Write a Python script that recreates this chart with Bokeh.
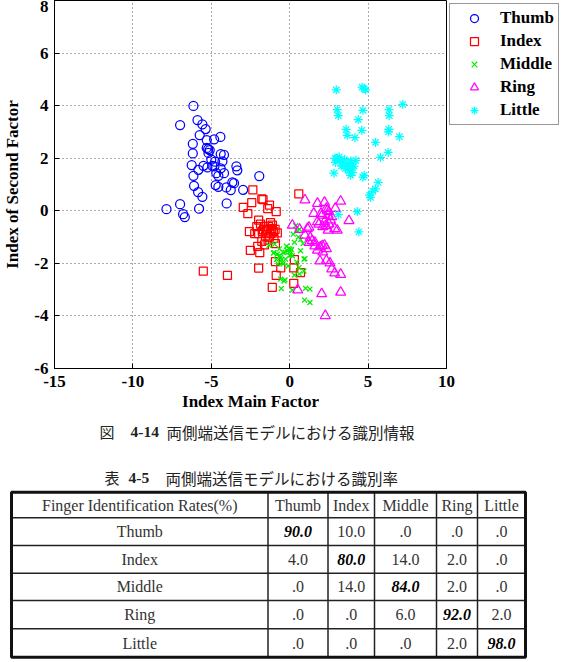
from bokeh.plotting import figure
from bokeh.models import Legend, LegendItem, Range1d, FixedTicker
from bokeh.core.properties import value
from bokeh.embed import file_html
from bokeh.resources import INLINE

# ---------------- data ----------------
thumb_x = [-6.14, -6.99, -5.88, -5.57, -5.36, -5.74, -5.29, -4.82, -4.42, -6.18, -5.29, -5.10, -5.18, -6.18,
           -4.40, -4.19, -4.29, -4.76, -4.93, -5.50, -6.25, -5.25, -4.40, -3.40, -3.34, -4.68, -4.19, -4.55,
           -5.82, -6.14, -4.72, -4.55, -3.66, -3.55, -4.04, -3.76, -6.10, -5.84, -5.57, -2.97, -1.94, -4.02,
           -6.99, -7.86, -5.78, -6.80, -6.69, -5.20, -4.80, -5.00]
thumb_y = [3.99, 3.26, 3.45, 3.29, 3.11, 2.88, 2.69, 2.72, 2.81, 2.55, 2.39, 2.31, 2.20, 2.18,
           2.16, 2.13, 1.88, 1.87, 1.71, 1.71, 1.74, 1.65, 1.61, 1.69, 1.54, 1.43, 1.43, 1.33,
           1.56, 1.33, 0.98, 0.91, 1.08, 1.05, 0.89, 0.79, 0.95, 0.71, 0.53, 0.80, 1.32, 0.28,
           0.25, 0.06, 0.08, -0.13, -0.24, 2.35, 1.69, 1.95]

index_x = [-2.35, 0.58, -1.78, -2.42, -2.96, -2.67, -1.29, -1.40, -0.86, -1.98, -1.86, -1.22, -2.57, -2.23,
           -1.35, -1.61, -1.43, -1.20, -0.93, -1.04, -0.79, -1.98, -1.68, -1.49, -1.78, -2.04, -0.91, -2.51,
           -1.91, -1.61, -0.91, 0.30, -1.98, -0.57, 0.26, 0.69, -0.86, -5.51, -3.97, -1.11, 0.26, -1.38,
           -1.15, -1.55, -1.30, -1.75, -2.10, -1.00, -1.70, -1.10]
index_y = [0.80, 0.64, 0.45, 0.31, 0.13, -0.11, 0.22, 0.08, -0.03, -0.36, -0.51, -0.45, -0.79, -0.87,
           -0.60, -0.59, -0.74, -0.87, -0.71, -0.79, -0.84, -0.87, -0.72, -0.70, -1.16, -1.35, -1.25, -1.51,
           -1.59, -1.30, -1.93, -1.86, -2.18, -2.17, -2.17, -2.35, -2.46, -2.30, -2.46, -2.91, -2.76, -1.12,
           -0.68, -0.95, -1.00, -0.78, -0.60, -1.05, 0.42, -0.55]

middle_x = [0.48, 0.62, 0.23, 0.55, 0.38, 0.02, -0.15, -0.41, -0.79, -1.00, -0.58, -0.26, -0.47, 0.17,
            0.69, 0.91, 0.59, 0.91, -0.58, -0.36, -0.54, 0.17, 1.01, 1.29, 0.95, 1.29, -0.96, -1.32,
            -1.04, -0.64, -0.30, -0.06, 0.12, -0.52, -0.41, -0.75, 0.85, 0.97, 0.62, -0.30, 0.70, 0.30,
            -0.20, 0.00, -0.65, -0.85, 0.45, -0.10, 0.30, 0.05]
middle_y = [-0.76, -0.70, -0.89, -1.00, -0.57, -1.46, -1.52, -1.59, -1.65, -1.59, -1.78, -1.84, -1.97, -1.71,
            -1.52, -1.84, -2.16, -2.29, -2.60, -2.67, -2.96, -3.02, -2.95, -2.98, -3.40, -3.49, -1.27, -1.31,
            -1.61, -1.70, -1.57, -1.44, -1.48, -1.86, -2.02, -2.02, -1.25, -1.82, -2.40, -2.63, -1.10, -1.20,
            -1.35, -1.70, -1.45, -1.85, -1.95, -2.10, -2.45, -1.55]

ring_x = [0.97, 1.77, 2.22, 3.25, 2.91, 2.34, 2.50, 1.54, 2.07, 2.45, 2.68, 1.77, 2.22, 2.11,
          2.45, 2.87, 3.78, 0.17, 0.63, 1.13, 0.97, 1.31, 1.24, 1.61, 1.95, 2.22, 2.34, 1.77,
          2.11, 1.93, 2.34, 2.57, 2.68, 2.87, 3.25, 2.04, 3.25, 0.51, 2.27, 2.39, 2.60, 1.86,
          2.29, 3.03, 1.23, 1.44, 2.08, 2.00, 2.50, 1.60]
ring_y = [0.41, 0.28, 0.32, 0.36, 0.09, 0.09, -0.04, -0.10, -0.17, -0.17, -0.23, -0.42, -0.42, -0.61,
          -0.74, -0.68, -0.38, -0.55, -0.71, -0.68, -0.93, -1.02, -1.21, -1.34, -1.38, -1.31, -1.44, -1.50,
          -1.57, -1.91, -1.89, -1.99, -2.21, -2.37, -2.42, -3.16, -3.10, -3.01, -3.99, 0.00, -0.35, -0.51,
          -0.57, -0.74, -0.63, -1.14, -1.33, -0.10, -0.50, -1.20]

little_x = [2.97, 4.62, 4.84, 4.75, 7.21, 3.03, 3.10, 4.67, 4.37, 6.33, 6.35, 3.60, 3.67, 4.16,
            4.60, 6.32, 6.30, 7.00, 5.47, 6.28, 5.79, 3.03, 2.92, 3.35, 3.67, 3.99, 4.22, 3.78,
            3.88, 2.82, 4.67, 4.75, 5.64, 5.47, 5.30, 5.15, 4.31, 3.10, 4.41, 3.15, 3.50, 3.80,
            3.30, 4.00, 3.55, 3.20, 2.90, 3.90, 4.10, 5.10]
little_y = [4.60, 4.70, 4.60, 4.65, 4.05, 3.85, 3.62, 3.82, 3.47, 3.85, 3.62, 3.10, 2.87, 2.78,
            3.06, 3.10, 3.00, 2.82, 2.60, 2.22, 2.03, 2.00, 1.84, 1.84, 1.71, 1.63, 1.92, 1.52,
            1.35, 1.43, 1.28, 1.35, 1.08, 0.83, 0.75, 0.51, -0.03, -0.15, -0.80, 2.05, 1.95, 1.80,
            1.70, 1.45, 1.60, 1.95, 2.00, 1.90, 1.70, 0.60]

x_ticks = [-15, -10, -5, 0, 5, 10]
y_ticks = [-6, -4, -2, 0, 2, 4, 6, 8]

finger_names = ["Thumb", "Index", "Middle", "Ring", "Little"]
table_title = "Finger Identification Rates(%)"
rates = [
    [90.0, 10.0, 0.0, 0.0, 0.0],
    [4.0, 80.0, 14.0, 2.0, 0.0],
    [0.0, 14.0, 84.0, 2.0, 0.0],
    [0.0, 0.0, 6.0, 92.0, 2.0],
    [0.0, 0.0, 0.0, 2.0, 98.0],
]

fig_caption_prefix = "図"
fig_caption_num = "4-14"
fig_caption_text = "両側端送信モデルにおける識別情報"
tab_caption_prefix = "表"
tab_caption_num = "4-5"
tab_caption_text = "両側端送信モデルにおける識別率"

SERIF = "Liberation Serif"
CJK = "Noto Sans CJK JP"

# ---------------- scatter ----------------
p = figure(width=562, height=415, frame_width=392, frame_height=368,
           x_range=Range1d(-15, 10), y_range=Range1d(-6, 8),
           output_backend="svg", toolbar_location=None, sizing_mode="fixed",
           min_border_left=52, min_border_right=118, min_border_top=0, min_border_bottom=47)
p.background_fill_color = "white"
p.border_fill_color = "white"
p.outline_line_color = "black"
p.outline_line_width = 1

styles = [
    (thumb_x, thumb_y, "circle", "#0000ff", 9),
    (index_x, index_y, "square", "#ff0000", 8),
    (middle_x, middle_y, "x", "#00ee00", 7),
    (ring_x, ring_y, "triangle", "#ff00ff", 10),
    (little_x, little_y, "asterisk", "#00ffff", 9),
]
items = []
for name, (xs, ys, mk, col, sz) in zip(finger_names, styles):
    r = p.scatter(xs, ys, marker=mk, size=sz, fill_color=col, fill_alpha=0.0,
                  line_color=col, line_width=1.25)
    items.append(LegendItem(label=name, renderers=[r]))

p.xaxis.ticker = FixedTicker(ticks=x_ticks)
p.yaxis.ticker = FixedTicker(ticks=y_ticks)
p.xaxis.major_label_overrides = {t: str(t) for t in x_ticks}
p.yaxis.major_label_overrides = {t: str(t) for t in y_ticks}
for ax in (p.xaxis[0], p.yaxis[0]):
    ax.major_label_text_font = SERIF
    ax.major_label_text_font_style = "bold"
    ax.major_label_text_font_size = "17px"
    ax.major_label_text_color = "black"
    ax.axis_label_text_font = SERIF
    ax.axis_label_text_font_style = "bold"
    ax.axis_label_text_font_size = "17px"
    ax.axis_label_text_color = "black"
    ax.axis_line_color = "black"
    ax.major_tick_line_color = "black"
    ax.major_tick_in = 5
    ax.major_tick_out = 0
    ax.minor_tick_line_color = None
p.xaxis.axis_label = "Index Main Factor"
p.yaxis.axis_label = "Index of Second Factor"
p.xaxis.major_label_standoff = 7
p.xaxis.axis_label_standoff = 2
p.yaxis.major_label_standoff = 6
p.yaxis.axis_label_standoff = 9

for g in (p.xgrid[0], p.ygrid[0]):
    g.grid_line_color = "#555555"
    g.grid_line_dash = "1 3"
    g.grid_line_width = 1

legend = Legend(items=items, location="top_left", margin=3, padding=4, spacing=3,
                glyph_width=40, glyph_height=20, label_height=20, label_standoff=6,
                label_text_font=SERIF, label_text_font_style="bold",
                label_text_font_size="17px", label_text_color="black",
                border_line_color="#333333", border_line_width=1.5,
                background_fill_color="white")
p.add_layout(legend, "right")

# ---------------- captions + table ----------------
t = figure(width=562, height=247, frame_width=562, frame_height=247,
           x_range=Range1d(0, 562), y_range=Range1d(247, 0),
           output_backend="svg", toolbar_location=None, x_axis_type=None, y_axis_type=None,
           sizing_mode="fixed",
           min_border_left=0, min_border_right=0, min_border_top=0, min_border_bottom=0)
t.grid.visible = False
t.outline_line_color = None
t.background_fill_color = "white"
t.border_fill_color = "white"

cap_kw = dict(text_align="left", text_baseline="middle", text_color="#222222")
t.text(x=[99], y=[16], text=[fig_caption_prefix], text_font=value(CJK), text_font_size="15px", **cap_kw)
t.text(x=[130], y=[16], text=[fig_caption_num], text_font=value(SERIF), text_font_size="15.5px",
       text_font_style="bold", **cap_kw)
t.text(x=[166], y=[16], text=[fig_caption_text], text_font=value(CJK), text_font_size="15.5px", **cap_kw)
t.text(x=[104], y=[62], text=[tab_caption_prefix], text_font=value(CJK), text_font_size="15px", **cap_kw)
t.text(x=[128], y=[62], text=[tab_caption_num], text_font=value(SERIF), text_font_size="15.5px",
       text_font_style="bold", **cap_kw)
t.text(x=[165], y=[62], text=[tab_caption_text], text_font=value(CJK), text_font_size="15.5px", **cap_kw)

col_edges = [11, 267.5, 327.5, 374, 436, 477, 525]
row_edges = [76.7, 102.3, 130, 157.7, 185, 213.3, 241.7]
col_c = [(col_edges[i] + col_edges[i + 1]) / 2 for i in range(len(col_edges) - 1)]
row_c = [(row_edges[i] + row_edges[i + 1]) / 2 for i in range(len(row_edges) - 1)]

t.segment(x0=col_edges[1:-1], y0=[row_edges[0]] * 5, x1=col_edges[1:-1], y1=[row_edges[-1]] * 5,
          line_color="#222222", line_width=1.5)
t.segment(x0=[col_edges[0]] * 5, y0=row_edges[1:-1], x1=[col_edges[-1]] * 5, y1=row_edges[1:-1],
          line_color="#222222", line_width=1.5)
t.quad(left=[col_edges[0]], right=[col_edges[-1]], top=[row_edges[0]], bottom=[row_edges[-1]],
       fill_color=None, line_color="#111111", line_width=3)

def fmt(v):
    return ".0" if v == 0 else f"{v:.1f}"

txt_kw = dict(text_font=value(SERIF), text_font_size="16px", text_align="center", text_baseline="middle")
t.text(x=col_c, y=[row_c[0]] * 6, text=[table_title] + finger_names, text_color="#333333", **txt_kw)
t.text(x=[col_c[0]] * 5, y=row_c[1:], text=finger_names, text_color="#333333", **txt_kw)
nx, ny, nt, dx, dy, dt = [], [], [], [], [], []
for i, row in enumerate(rates):
    for j, v in enumerate(row):
        if i == j:
            dx.append(col_c[j + 1]); dy.append(row_c[i + 1]); dt.append(fmt(v))
        else:
            nx.append(col_c[j + 1]); ny.append(row_c[i + 1]); nt.append(fmt(v))
t.text(x=nx, y=ny, text=nt, text_color="#333333", **txt_kw)
t.text(x=dx, y=dy, text=dt, text_color="black", text_font_style="bold italic", **txt_kw)

html = file_html([p, t], INLINE, title="chart")
html = html.replace("<head>", "<head><style>body{margin:0;padding:0;} .bk-root{display:block;}</style>", 1)
open("out.html", "w").write(html)
